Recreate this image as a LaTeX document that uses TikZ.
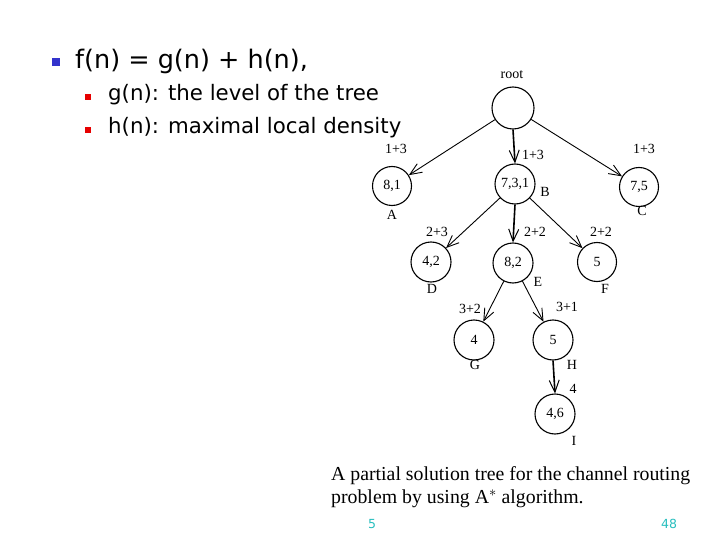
\documentclass[tikz,border=0pt]{standalone}
\usepackage{fontspec}
\setmainfont{Liberation Serif}
\newfontfamily\slidefont{DejaVu Sans}
\usetikzlibrary{arrows.meta}
\definecolor{bulblue}{RGB}{51,51,204}
\definecolor{bulred}{RGB}{230,0,0}
\definecolor{pagecyan}{RGB}{40,190,190}
\tikzset{
  tn/.style={circle,draw,line width=1.1pt,minimum size=#1,inner sep=0pt,font=\fontsize{14}{16}\selectfont},
  lbl/.style={inner sep=0pt,font=\fontsize{14}{16}\selectfont},
  arr/.style={line width=0.9pt,-{Straight Barb[length=12pt,width=10pt,line width=0.9pt]}},
  tarr/.style={line width=1.6pt,-{Straight Barb[length=12pt,width=10pt,line width=1pt]}},
}
\begin{document}
\begin{tikzpicture}[x=1pt,y=-1pt]
\useasboundingbox (0,0) rectangle (720,540);
% bullets
\node[fill=bulblue,minimum size=8pt,inner sep=0pt] (b1) at (56,62) {};
\node[anchor=west,inner sep=0pt,font=\slidefont\fontsize{25.5}{30}\selectfont] (t1) at (75,61) {f(n) = g(n) + h(n),};
\node[fill=bulred,minimum size=6pt,inner sep=0pt] (b2) at (88,97) {};
\node[anchor=west,inner sep=0pt,font=\slidefont\fontsize{21.3}{25}\selectfont] (t2) at (108,95) {g(n): the level of the tree};
\node[fill=bulred,minimum size=6pt,inner sep=0pt] (b3) at (88,130) {};
\node[anchor=west,inner sep=0pt,font=\slidefont\fontsize{21.3}{25}\selectfont] (t3) at (108,128) {h(n): maximal local density};
% tree nodes
\node[tn=42pt] (root) at (513,108) {};
\node[tn=39pt] (A) at (392,186) {8,1};
\node[tn=40pt] (B) at (515,184) {7,3,1};
\node[tn=39pt] (C) at (639,187) {7,5};
\node[tn=40pt] (D) at (431,262) {4,2};
\node[tn=40pt] (E) at (513,263) {8,2};
\node[tn=39pt] (F) at (597,262) {5};
\node[tn=40pt] (G) at (474,340) {4};
\node[tn=40pt] (H) at (553,340) {5};
\node[tn=40pt] (I) at (555,414) {4,6};
% edges
\draw[arr] (root) -- (A);
\draw[tarr] (root.south) -- (B.north);
\draw[arr] (root) -- (C);
\draw[arr] (B) -- (D);
\draw[tarr] (B.south) -- (E.north);
\draw[arr] (B) -- (F);
\draw[arr] (E) -- (G);
\draw[arr] (E) -- (H);
\draw[tarr] (H.south) -- (I.north);
% labels
\node[lbl] (lroot) at (512,75) {root};
\node[lbl] (lA1) at (396,149) {1+3};
\node[lbl] (lB1) at (533,155) {1+3};
\node[lbl] (lC1) at (644,149) {1+3};
\node[lbl] (lA) at (392,215) {A};
\node[lbl] (lB) at (545,192) {B};
\node[lbl] (lC) at (642,211) {C};
\node[lbl] (lD1) at (437,232) {2+3};
\node[lbl] (lE1) at (535,232) {2+2};
\node[lbl] (lF1) at (601,232) {2+2};
\node[lbl] (lD) at (432,289) {D};
\node[lbl] (lE) at (538,282) {E};
\node[lbl] (lF) at (605,289) {F};
\node[lbl] (lG1) at (470,309) {3+2};
\node[lbl] (lH1) at (567,307) {3+1};
\node[lbl] (lG) at (475,365) {G};
\node[lbl] (lH) at (572,365) {H};
\node[lbl] (lI1) at (573,389) {4};
\node[lbl] (lI) at (574,441) {I};
% caption
\node[anchor=north west,inner sep=0pt,align=left,font=\fontsize{19.8}{23}\selectfont] (cap) at (331,466) {A partial solution tree for the channel routing\\[0.5pt]problem by using A$^*$ algorithm.};
% page numbers
\node[anchor=base,inner sep=0pt,text=pagecyan,font=\slidefont\fontsize{12.5}{14}\selectfont] (p1) at (372,528) {5};
\node[anchor=base,inner sep=0pt,text=pagecyan,font=\slidefont\fontsize{12.5}{14}\selectfont] (p2) at (669,528) {48};
\end{tikzpicture}
\end{document}
